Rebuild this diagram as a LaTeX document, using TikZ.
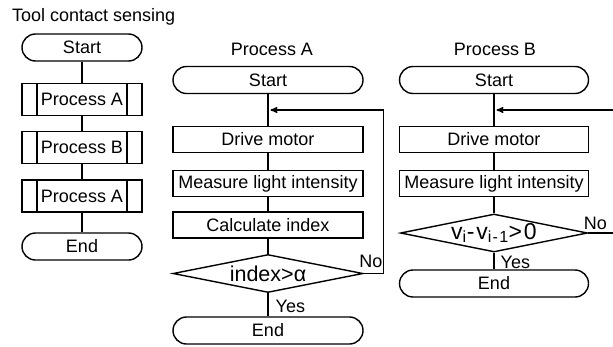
\documentclass[tikz,border=0pt]{standalone}
\usepackage{fontspec}
\setmainfont{Liberation Sans}
\usetikzlibrary{shapes,arrows,calc}
\tikzstyle{terminal} = [draw, rounded corners=13.5pt, minimum height=27pt, inner sep=0pt]
\tikzstyle{process} = [draw, minimum width=190pt, minimum height=26pt, inner sep=0pt]
\tikzstyle{subprocess} = [draw, minimum width=120pt, minimum height=32pt, inner sep=0pt,
  path picture={\draw ([xshift=15pt]path picture bounding box.north west) -- ([xshift=15pt]path picture bounding box.south west)
    ([xshift=-15pt]path picture bounding box.north east) -- ([xshift=-15pt]path picture bounding box.south east);}]
\tikzstyle{decision} = [draw, diamond, minimum width=190pt, minimum height=38pt, inner sep=0pt, font=\fontsize{21.5}{24}\selectfont]
\tikzstyle{answer} = [inner sep=0pt, anchor=base west]
\begin{document}
\begin{tikzpicture}[x=1pt, y=-1pt, line width=1.4pt, >=stealth', font=\fontsize{18}{20}\selectfont]
\useasboundingbox (0,0) rectangle (613,346);
\clip (0,0) rectangle (613,346);

\node[anchor=base west] (tt) at (8,21) {Tool contact sensing};
\node[anchor=base] (ta) at (272,55) {Process A};
\node[anchor=base] (tb) at (495,55) {Process B};

\node[terminal, minimum width=120pt] (t1) at (82,47.5) {Start};
\node[subprocess, node distance=52pt, below of = t1] (t2) {Process A};
\node[subprocess, node distance=48pt, below of = t2] (t3) {Process B};
\node[subprocess, node distance=48.5pt, below of = t3] (t4) {Process A};
\node[terminal, minimum width=120pt, node distance=50.5pt, below of = t4] (t5) {End};

\node[terminal, minimum width=190pt] (a1) at (268,80) {Start};
\node[process, node distance=59.5pt, below of = a1] (a2) {Drive motor};
\node[process, node distance=44pt, below of = a2] (a3) {Measure light intensity};
\node[process, node distance=41.5pt, below of = a3] (a4) {Calculate index};
\node[decision, node distance=48.5pt, below of = a4] (a5) {\makebox[0pt]{index>α}};
\node[terminal, minimum width=190pt, node distance=57pt, below of = a5] (a6) {End};

\node[terminal, minimum width=189pt] (b1) at (494,80) {Start};
\node[process, minimum width=189pt, node distance=59.5pt, below of = b1] (b2) {Drive motor};
\node[process, minimum width=189pt, node distance=44pt, below of = b2] (b3) {Measure light intensity};
\node[decision, minimum width=187pt, node distance=49.5pt, below of = b3, font=\fontsize{23}{24}\selectfont\addfontfeature{LetterSpace=8}]
  (b4) {\makebox[0pt]{v\textsubscript{i}-v\textsubscript{i-1}>0}};
\node[terminal, minimum width=189pt, node distance=50.5pt, below of = b4] (b5) {End};

\node[answer] (na) at ([xshift=-5pt, yshift=6.5pt]a5.east) {No};
\node[answer] (ya) at ([xshift=7pt, yshift=-19.5pt]a5.south) {Yes};
\node[answer] (nb) at ([xshift=-5pt, yshift=3.5pt]b4.east) {No};
\node[answer] (yb) at ([xshift=6pt, yshift=-16pt]b4.south) {Yes};

\coordinate (ja) at ($(a1.south)!0.5!(a2.north)$);
\coordinate (jb) at ($(b1.south)!0.5!(b2.north)$);

\path
(t1) edge (t2)
(t2) edge (t3)
(t3) edge (t4)
(t4) edge (t5)
(a1) edge (a2)
(a2) edge (a3)
(a3) edge (a4)
(a4) edge (a5)
(a5) edge (a6)
(b1) edge (b2)
(b2) edge (b3)
(b3) edge (b4)
(b4) edge (b5);

\draw[->, shorten >=2.5pt] (a5.east) -- ++(20,0) |- (ja);
\draw[->, shorten >=2.5pt] (b4.east) -- ++(40,0) |- (jb);
\end{tikzpicture}
\end{document}
